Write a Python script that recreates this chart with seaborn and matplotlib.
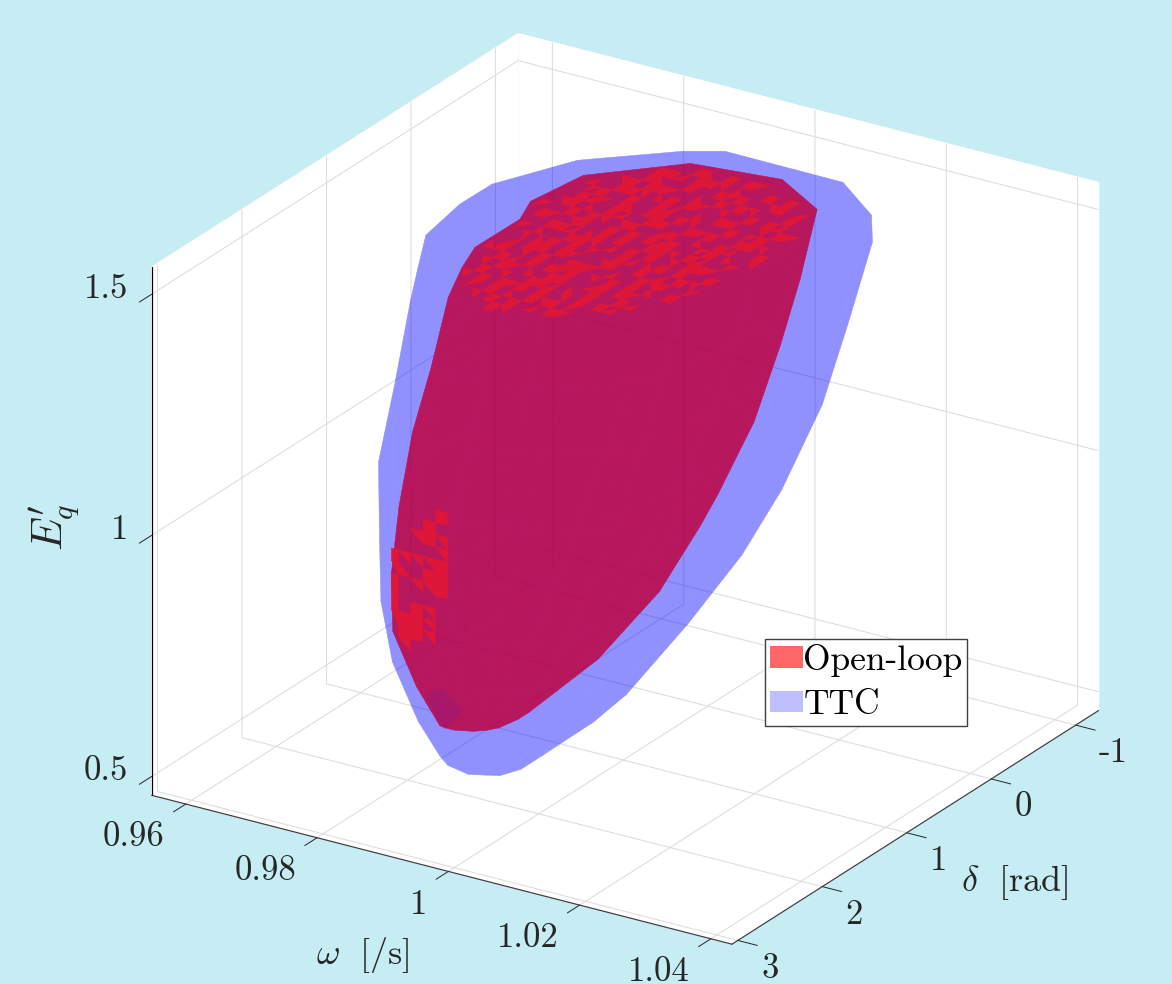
import numpy as np
import matplotlib
matplotlib.use("Agg")
import matplotlib.pyplot as plt
import seaborn as sns
from matplotlib.patches import Patch
from matplotlib.path import Path
from mpl_toolkits.mplot3d import proj3d
from mpl_toolkits.mplot3d.art3d import Poly3DCollection

# axis ranges and ticks
delta_lim = (-1.27, 3.07)
omega_lim = (0.9548, 1.0432)
eq_lim = (0.461, 1.556)
delta_ticks = [-1, 0, 1, 2, 3]
delta_labels = ["-1", "0", "1", "2", "3"]
omega_ticks = [0.96, 0.98, 1.0, 1.02, 1.04]
omega_labels = ["0.96", "0.98", "1", "1.02", "1.04"]
eq_ticks = [0.5, 1.0, 1.5]
eq_labels = ["0.5", "1", "1.5"]

# open-loop set, one closed outline per Eq level
red_eq = [1.45, 1.33, 1.22, 1.08, 0.97, 0.85, 0.73, 0.66]
red_omega = [
    [.9834, .9798, .9778, .9779, .9760, .9773, .9869, .9996, 1.0085, 1.0124, 1.0122, 1.0099, 1.0065, 1.0015, .9923, .9868],
    [.9836, .9800, .9780, .9781, .9762, .9775, .9871, .9998, 1.0087, 1.0126, 1.0124, 1.0101, 1.0067, 1.0017, .9925, .9870],
    [.9836, .9800, .9780, .9781, .9761, .9774, .9870, .9997, 1.0086, 1.0126, 1.0124, 1.0101, 1.0067, 1.0016, .9924, .9870],
    [.9833, .9798, .9779, .9780, .9761, .9774, .9866, .9989, 1.0074, 1.0113, 1.0111, 1.0089, 1.0056, 1.0007, .9918, .9866],
    [.9846, .9814, .9796, .9797, .9780, .9791, .9876, .9989, 1.0068, 1.0103, 1.0101, 1.0081, 1.0051, 1.0006, .9924, .9876],
    [.9850, .9823, .9807, .9808, .9793, .9803, .9876, .9973, 1.0041, 1.0072, 1.0070, 1.0053, 1.0027, .9988, .9918, .9876],
    [.9871, .9852, .9842, .9842, .9833, .9839, .9889, .9955, 1.0002, 1.0022, 1.0021, 1.0009, .9991, .9965, .9917, .9889],
    [.9906, .9897, .9891, .9892, .9887, .9890, .9915, .9948, .9970, .9980, .9980, .9974, .9965, .9952, .9929, .9915],
]
red_delta = [
    [1.781, 1.336, 1.028, .505, .233, -.291, -.813, -.913, -.635, -.091, .415, 1.100, 1.391, 1.624, 1.819, 1.822],
    [1.998, 1.553, 1.245, .722, .450, -.074, -.596, -.696, -.418, .126, .632, 1.316, 1.608, 1.841, 2.036, 2.039],
    [2.219, 1.775, 1.466, .943, .671, .147, -.374, -.475, -.197, .347, .854, 1.538, 1.830, 2.062, 2.257, 2.260],
    [2.356, 1.927, 1.629, 1.124, .862, .356, -.147, -.244, .024, .549, 1.038, 1.698, 1.980, 2.204, 2.392, 2.395],
    [2.545, 2.151, 1.878, 1.414, 1.173, .709, .247, .158, .405, .887, 1.335, 1.941, 2.200, 2.406, 2.579, 2.581],
    [2.562, 2.223, 1.987, 1.587, 1.379, .979, .581, .504, .716, 1.132, 1.519, 2.042, 2.264, 2.442, 2.591, 2.594],
    [2.446, 2.214, 2.054, 1.782, 1.641, 1.368, 1.097, 1.045, 1.189, 1.472, 1.735, 2.091, 2.243, 2.364, 2.465, 2.467],
    [2.440, 2.326, 2.247, 2.112, 2.042, 1.908, 1.774, 1.748, 1.819, 1.959, 2.089, 2.265, 2.340, 2.400, 2.450, 2.451],
]

# TTC set
blue_eq = [1.50, 1.34, 1.19, 1.02, 0.90, 0.77, 0.64, 0.56]
blue_omega = [
    [.9842, .9791, .9745, .9729, .9730, .9782, .9881, .9927, 1.0108, 1.0195, 1.0242, 1.0265, 1.0264, 1.0219, 1.0081, .9934],
    [.9831, .9781, .9736, .9720, .9721, .9772, .9869, .9914, 1.0091, 1.0177, 1.0223, 1.0245, 1.0244, 1.0200, 1.0065, .9921],
    [.9826, .9777, .9733, .9718, .9719, .9769, .9864, .9908, 1.0082, 1.0165, 1.0210, 1.0233, 1.0232, 1.0188, 1.0056, .9915],
    [.9823, .9778, .9739, .9725, .9725, .9770, .9857, .9897, 1.0054, 1.0130, 1.0171, 1.0191, 1.0189, 1.0151, 1.0030, .9903],
    [.9827, .9788, .9752, .9740, .9740, .9780, .9858, .9894, 1.0035, 1.0103, 1.0140, 1.0158, 1.0156, 1.0122, 1.0013, .9899],
    [.9836, .9804, .9774, .9764, .9765, .9797, .9861, .9890, 1.0006, 1.0062, 1.0092, 1.0107, 1.0106, 1.0078, .9989, .9895],
    [.9859, .9836, .9816, .9809, .9809, .9832, .9877, .9897, .9979, 1.0018, 1.0039, 1.0050, 1.0049, 1.0029, .9966, .9901],
    [.9876, .9863, .9851, .9847, .9847, .9861, .9887, .9898, .9945, .9968, .9980, .9986, .9986, .9974, .9938, .9900],
]
blue_delta = [
    [2.294, 1.804, 1.354, .828, .455, -.151, -.629, -.772, -.762, -.424, -.070, .971, 1.904, 2.506, 2.847, 2.655],
    [2.387, 1.907, 1.466, .951, .585, -.009, -.477, -.617, -.608, -.276, .071, 1.091, 2.005, 2.595, 2.929, 2.741],
    [2.545, 2.075, 1.642, 1.138, .780, .198, -.261, -.398, -.389, -.064, .276, 1.275, 2.170, 2.748, 3.076, 2.892],
    [2.509, 2.083, 1.691, 1.234, .909, .382, -.034, -.158, -.150, .144, .452, 1.358, 2.169, 2.693, 2.990, 2.823],
    [2.524, 2.142, 1.791, 1.381, 1.090, .617, .244, .133, .141, .404, .680, 1.492, 2.220, 2.690, 2.955, 2.806],
    [2.458, 2.144, 1.856, 1.520, 1.281, .893, .587, .496, .502, .718, .945, 1.611, 2.208, 2.593, 2.812, 2.689],
    [2.330, 2.110, 1.907, 1.671, 1.503, 1.230, 1.015, .951, .955, 1.107, 1.266, 1.735, 2.155, 2.426, 2.579, 2.493],
    [2.205, 2.078, 1.960, 1.824, 1.727, 1.569, 1.445, 1.408, 1.410, 1.498, 1.590, 1.861, 2.104, 2.260, 2.349, 2.299],
]

# mottled mesh faces on the top of the open-loop set: # whole cell, a b c d half cell
cap_mask = [
    "..#a.a#...##c..#..b#...#",
    ".#.##d..#b.#.#c..##.b#..",
    "#.c..##d.##a.b..#.#..#d.",
    ".#a..#b..#..#c#..a#.d..#",
    "#..a#.##c..b.#.#a...#.c#",
    ".d..##a.b#.#c.a..#.#d..b",
    "#.c#..#..#d..b.##..a.#c.",
    "..#dc.#b.##.#a...#.c#..#",
    ".a#.b.#d..##..#c#..##a..",
    "c..#.#a.a#..d#..b.#d..#.",
    ".#c.a#..#.#.#d#..c#.b.a#",
    "#..##d.b#.#..##a.#d..c..",
    ".c.b..##a.d.#.#.a.##c.#.",
    "#.a.b#.#.c..#d.b#.#..##a",
    "#.d.##.#c..a#..#.d.#a..#",
    ".b#.a.#..##c.d..#a#..c.#",
    "#..#d.#.#c#.a.#.#.b.#..#",
    ".#a.#c.b.##..d#.#c..a.#.",
    "c#.#.a..##d.b.#..#d.#.c.",
    "#.a.#.#c#.#.a.#.#d.b.#.#",
    ".d.#c.#.b.#a#.c.#.#..a..",
    "#.#..a.#.#.d.#c.b#..c.#.",
    ".b.c#.#.#a.#.d.#.#.b#...",
]
cap_omega = np.arange(25) * 0.0015 + 0.9770
cap_delta = np.arange(24) * 0.118 - 0.90

# same faces on the flank, lower left
side_delta = 2.32
side_omega = [0.98167, 0.98274, 0.98461, 0.98649, 0.98837, 0.99024]
side_eq = 1.086 - np.arange(13) * 0.0255
side_mask = [
    "....#",
    "...#.",
    "..a#a",
    "....a",
    "#aaa#",
    "ab.##",
    "#.aa#",
    "#....",
    "#.#a.",
    "a##a.",
    ".##a.",
    ".a...",
]
# darker spot near the bottom of the open-loop set
spot_omega = [0.98685, 0.98943, 0.99263, 0.98989, 0.98867]
spot_eq = [0.7045, 0.7198, 0.6875, 0.6384, 0.6488]

bg = "#C6ECF4"
red, blue = sns.color_palette(["#FF0000", "#0000FF"])
bright = matplotlib.colors.to_rgb("#DE1738")
ink = "#262626"

sns.set_theme(style="white")
plt.rcParams["font.family"] = ["cmr10", "DejaVu Sans"]
plt.rcParams["mathtext.fontset"] = "cm"
plt.rcParams["axes.unicode_minus"] = False

fig = plt.figure(figsize=(11.72, 9.84), dpi=100, facecolor=bg)
ax = fig.add_axes([123.9 / 1172, -6.1 / 984, 976 / 1172, 976 / 984], projection="3d", proj_type="ortho")
ax.set_facecolor(bg)
ax.computed_zorder = False
ax.view_init(elev=23.85, azim=32.4)
ax.set_box_aspect((685, 688, 578), zoom=1.1226)
ax.set_xlim(*delta_lim, view_margin=0)
ax.set_ylim(*omega_lim, view_margin=0)
ax.set_zlim(*eq_lim, view_margin=0)


def facing(poly, M):
    xs, ys, _ = proj3d.proj_transform(poly[:, 0], poly[:, 1], poly[:, 2], M)
    return np.sum(xs * np.roll(ys, -1) - np.roll(xs, -1) * ys) > 0


def body_faces(eq, omega, delta, M):
    front, back = [], []
    rings = [np.column_stack([d, w, np.full(len(w), e)]) for e, w, d in zip(eq, omega, delta)]
    for upper, lower in zip(rings[:-1], rings[1:]):
        for i in range(len(upper)):
            j = (i + 1) % len(upper)
            quad = np.array([upper[i], upper[j], lower[j], lower[i]])
            (front if facing(quad, M) else back).append(quad)
    front.append(rings[0])
    back.append(rings[-1])
    return front, back


def layer_alpha(alpha):
    # the faces of one layer are drawn solid, then the whole layer is made see-through
    # agg counts the alpha of a filtered layer twice, hence the root
    def apply(img, dpi):
        img = img.copy()
        img[..., 3] *= np.sqrt(alpha)
        return img, 0, 0
    return apply


def add_faces(faces, color, alpha, zorder):
    coll = Poly3DCollection(faces, facecolors=[color], edgecolors=[color], linewidths=0.3, zorder=zorder)
    if alpha < 1:
        coll.set_agg_filter(layer_alpha(alpha))
    ax.add_collection3d(coll)


def half_cells(ch, p00, p10, p11, p01):
    if ch == "#":
        return [p00, p10, p11, p01]
    return {"a": [p00, p10, p11], "b": [p00, p11, p01], "c": [p00, p10, p01], "d": [p10, p11, p01]}[ch]


def nudge(label, dx, dy):
    # the 3d axis places its tick labels at draw time, shift in pixels from there
    inv = ax.transData.inverted()
    px = inv.transform((1, 0))[0] - inv.transform((0, 0))[0]
    place = label.set_position
    label.set_position = lambda xy: place((xy[0] + dx * px, xy[1] + dy * px))


M = ax.get_proj()
blue_front, blue_back = body_faces(blue_eq, blue_omega, blue_delta, M)
red_front, red_back = body_faces(red_eq, red_omega, red_delta, M)
add_faces(blue_back, blue, 0.25, 2)
add_faces(red_back, red, 0.6, 3)
add_faces(red_front, red, 0.6, 4)
add_faces(blue_front, blue, 0.25, 5)

cap_outline = Path(np.column_stack([red_omega[0], red_delta[0]]))
cap_faces = []
for r, row in enumerate(cap_mask):
    for c, ch in enumerate(row):
        if ch == ".":
            continue
        w0, w1 = cap_omega[c], cap_omega[c + 1]
        d0, d1 = cap_delta[r], cap_delta[r + 1]
        e = red_eq[0]
        face = half_cells(ch, (d0, w0, e), (d0, w1, e), (d1, w1, e), (d1, w0, e))
        if cap_outline.contains_points([(p[1], p[0]) for p in face]).all():
            cap_faces.append(face)
add_faces(cap_faces, bright, 1.0, 6)

side_faces = []
for r, row in enumerate(side_mask):
    for c, ch in enumerate(row):
        if ch == ".":
            continue
        w0, w1 = side_omega[c], side_omega[c + 1]
        e0, e1 = side_eq[r], side_eq[r + 1]
        side_faces.append(half_cells(ch, (side_delta, w0, e0), (side_delta, w1, e0),
                                     (side_delta, w1, e1), (side_delta, w0, e1)))
add_faces(side_faces, bright, 1.0, 6)
add_faces([[(side_delta, w, e) for w, e in zip(spot_omega, spot_eq)]], (0.45, 0.1, 0.6), 0.2, 6)

ax.set_xticks(delta_ticks, delta_labels)
ax.set_yticks(omega_ticks, omega_labels)
ax.set_zticks(eq_ticks, eq_labels)
ax.grid(True)
ax.tick_params(labelsize=25, colors=ink)
ax.tick_params(axis="x", pad=1)
ax.tick_params(axis="y", pad=1)
ax.tick_params(axis="z", pad=1)
for axis in (ax.xaxis, ax.yaxis, ax.zaxis):
    axis.set_pane_color((1, 1, 1, 1))
    axis.pane.set_edgecolor("white")
    axis._axinfo["grid"].update(color="#DEDEDE", linewidth=0.8)
    axis._axinfo["tick"].update(inward_factor=0.42, outward_factor=0, linewidth={True: 0.7, False: 0.5})
    axis.line.set_color("#404040")
    axis.line.set_linewidth(0.9)
ax.zaxis.line.set_color("black")
ax.xaxis.set_ticks_position("lower")
ax.yaxis.set_ticks_position("lower")
ax.zaxis.set_ticks_position("lower")
for lab in ax.get_xticklabels():
    lab.set(ha="left", va="top")
    nudge(lab, 9, 4)
for lab in ax.get_yticklabels():
    lab.set(ha="right", va="top")
    nudge(lab, -12, 1)
for lab in ax.get_zticklabels():
    lab.set(ha="right", va="center")
    nudge(lab, 0, 7)

fig.text(363 / 1172, 1 - 955 / 984, r"$\omega\ \ [/\mathrm{s}]$", color=ink, size=26, ha="center", va="center")
fig.text(1015 / 1172, 1 - 882 / 984, r"$\delta\ \ [\mathrm{rad}]$", color=ink, size=26, ha="center", va="center")
fig.text(55 / 1172, 1 - 527 / 984, r"$E_q'$", color=ink, size=31, ha="center", va="center", rotation=90)

handles = [Patch(facecolor=(*red, 0.6), edgecolor="none", label="Open-loop"),
           Patch(facecolor=(*blue, 0.25), edgecolor="none", label="TTC")]
fig.legend(handles=handles, loc="lower left", bbox_to_anchor=(765 / 1172, 1 - 726 / 984), borderaxespad=0,
           fontsize=25.5, labelcolor="black", frameon=True, fancybox=False, framealpha=1, facecolor="white",
           edgecolor="#404040", handlelength=0.94, handleheight=0.57, handletextpad=0.0, borderpad=0.14,
           labelspacing=0.36)

fig.savefig("out.png", dpi=100, facecolor=bg)
